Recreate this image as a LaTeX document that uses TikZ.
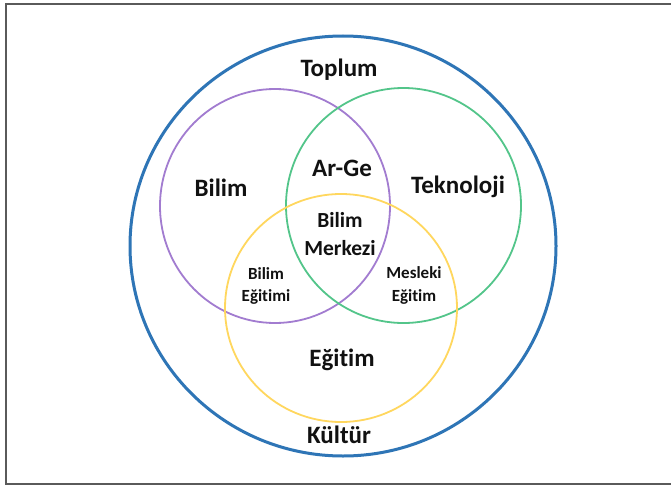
\documentclass[tikz,border=0pt]{standalone}
\usepackage{fontspec}
\setmainfont[Ligatures=NoCommon]{Carlito}
\definecolor{framegray}{HTML}{5A5A5A}
\definecolor{outerblue}{HTML}{2E75B6}
\definecolor{bilimpurple}{HTML}{A27CD0}
\definecolor{teknogreen}{HTML}{53C58A}
\definecolor{egityellow}{HTML}{FFD75E}
\definecolor{txt}{HTML}{111111}
\begin{document}
\begin{tikzpicture}[x=1pt,y=-1pt,
  big/.style={font=\fontsize{25}{30}\selectfont\bfseries, text=txt, inner sep=0pt, align=center},
  mid/.style={font=\fontsize{21.5}{28}\selectfont\bfseries, text=txt, inner sep=0pt, align=center},
  small/.style={font=\fontsize{17}{22.5}\selectfont\bfseries, text=txt, inner sep=0pt, align=center},
  ring/.style={line width=1.8pt}]
\useasboundingbox (0,0) rectangle (671,487);
\fill[white] (0,0) rectangle (671,487);
% frame (right side lies outside the picture)
\draw[framegray, line width=2pt] (675,4) -- (6,4) -- (6,484) -- (675,484);
% circles
\draw[outerblue, line width=3pt] (343,246) ellipse [x radius=213, y radius=210];
\draw[ring, bilimpurple] (275,206) ellipse [x radius=115, y radius=117];
\draw[ring, teknogreen] (403.5,205.5) ellipse [x radius=117.5, y radius=117.5];
\draw[ring, egityellow] (341,308) ellipse [x radius=116, y radius=114];
% labels
\node[big] (toplum) at (339,70) {Toplum};
\node[big] (bilim) at (221,188) {Bilim};
\node[big] (tekno) at (458,187) {Teknoloji};
\node[big] (arge) at (342,168) {Ar-Ge};
\node[mid] (merkez) at (340,234) {Bilim\\Merkezi};
\node[small] (bilegit) at (266,286) {Bilim\\Eğitimi};
\node[small] (mesegit) at (414,285.5) {Mesleki\\Eğitim};
\node[big] (egitim) at (342,360) {Eğitim};
\node[big] (kultur) at (339,435) {Kültür};
\end{tikzpicture}
\end{document}
